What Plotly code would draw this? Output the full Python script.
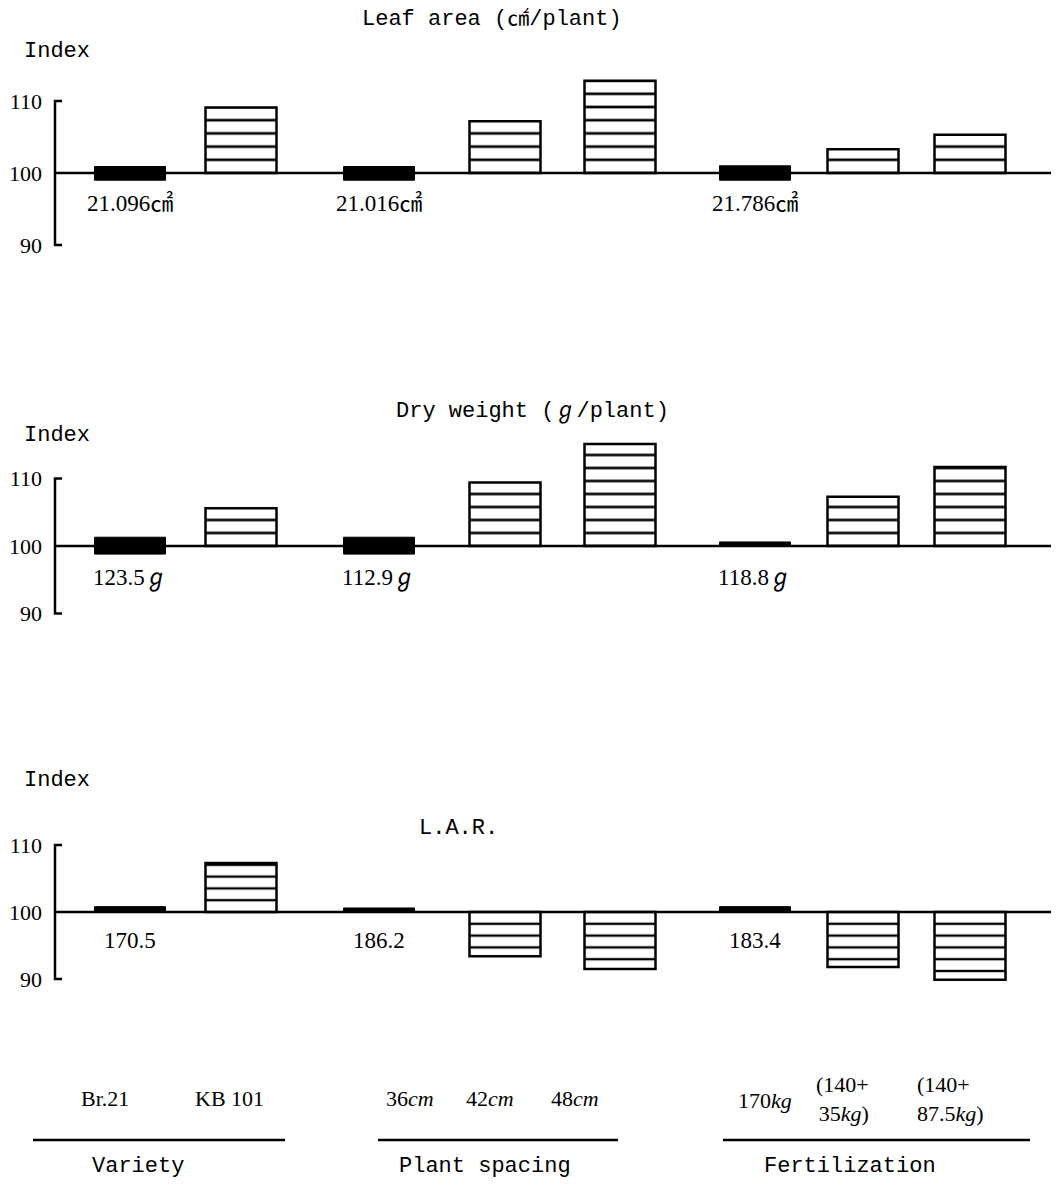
import plotly.graph_objects as go

# ---------------- data ----------------
panel_titles = ["Leaf area (㎠/plant)", "Dry weight (ℊ/plant)", "L.A.R."]
control_names = ["Br.21", "36cm", "170kg"]
treatment_names = ["KB 101", "42cm", "48cm", "(140+35kg)", "(140+87.5kg)"]

# control bars (index 100, drawn as thick black bars) : lower / upper edge
ctrl_low = [[99.0, 99.0, 99.0], [98.8, 98.8, 100.0], [100.0, 100.0, 100.0]]
ctrl_high = [[100.9, 100.9, 101.0], [101.3, 101.3, 100.6], [100.8, 100.6, 100.8]]
ctrl_labels = [["21.096㎠", "21.016㎠", "21.786㎠"],
               ["123.5ℊ", "112.9ℊ", "118.8ℊ"],
               ["170.5", "186.2", "183.4"]]

# treatment index values
leaf_area = [109.1, 107.2, 112.8, 103.3, 105.3]
dry_weight = [105.6, 109.4, 115.1, 107.3, 111.7]
lar = [107.3, 93.4, 91.5, 91.8, 89.9]
treat_values = [leaf_area, dry_weight, lar]

tick_vals = [90, 100, 110]
tick_text = ["90", "100", "110"]

bottom_labels = ["Br.21", "KB 101", "36<i>cm</i>", "42<i>cm</i>", "48<i>cm</i>",
                 "170<i>kg</i>", "(140+<br>35<i>kg</i>)", "(140+<br>87.5<i>kg</i>)"]
group_names = ["Variety", "Plant spacing", "Fertilization"]

# ---------------- layout helpers (page-pixel geometry) ----------------
PAGE_W, PAGE_H = 1059, 1186
OFF = 8                        # page margin around the figure
W, H = PAGE_W - 2 * OFF, PAGE_H - 2 * OFF
ctrl_x = [130, 379, 755]
treat_x = [241, 505, 620, 863, 970]
bar_w = 71
axis_x = 55
base_end = 1052
# per panel: page-pixel y of index 100, px per unit, hatch spacing, hatch rows above baseline
panels = [dict(py100=173, s=7.2, lo=86, hatch=13.2, rows=8.5, title_y=19, index_y=52, title_x=492, lab_shift=-30),
          dict(py100=546, s=6.75, lo=86, hatch=13.0, rows=8.5, title_y=411, index_y=435, title_x=532, lab_shift=-32),
          dict(py100=912, s=6.7, lo=86, hatch=11.8, rows=6.5, title_y=829, index_y=780, title_x=458, lab_shift=-28)]

def paper(py):
    return 1 - (py - OFF) / H

serif = "Liberation Serif, Noto Sans CJK JP, DejaVu Serif"
mono = "Liberation Mono, Noto Sans CJK JP, DejaVu Sans Mono"

fig = go.Figure()
layout = dict(width=W, height=H, margin=dict(l=0, r=0, t=0, b=0, autoexpand=False),
              paper_bgcolor="white", plot_bgcolor="rgba(0,0,0,0)", showlegend=False,
              xaxis=dict(range=[OFF, OFF + W], domain=[0, 1], visible=False, fixedrange=True,
                         automargin=False))
shapes, annotations = [], []

def ann(**kw):
    kw.setdefault("showarrow", False)
    kw.setdefault("xanchor", "center")
    kw.setdefault("yanchor", "middle")
    annotations.append(kw)

for i, p in enumerate(panels):
    yname = "y" if i == 0 else f"y{i+1}"
    ykey = "yaxis" if i == 0 else f"yaxis{i+1}"
    # top of range chosen so the hatch lines are in phase with the baseline
    hi = 100 + p["hatch"] * p["rows"] / p["s"]
    d0 = paper(p["py100"] + (100 - p["lo"]) * p["s"])
    d1 = paper(p["py100"] - (hi - 100) * p["s"])
    layout[ykey] = dict(domain=[d0, d1], range=[p["lo"], hi], anchor="free", automargin=False,
                        position=(axis_x - OFF) / W, showgrid=False, zeroline=False, showline=False,
                        tickvals=tick_vals, ticktext=tick_text, ticks="", ticklabelstandoff=13,
                        tickfont=dict(family=serif, size=22, color="black"), fixedrange=True)
    # black control bars
    fig.add_trace(go.Bar(x=ctrl_x, base=ctrl_low[i],
                         y=[h - l for h, l in zip(ctrl_high[i], ctrl_low[i])],
                         width=bar_w, marker=dict(color="black", line=dict(color="black", width=1)),
                         xaxis="x", yaxis=yname, hoverinfo="skip"))
    # hatched treatment bars
    fig.add_trace(go.Bar(x=treat_x, base=100, y=[v - 100 for v in treat_values[i]],
                         width=bar_w,
                         marker=dict(color="white", line=dict(color="black", width=2.5),
                                     pattern=dict(shape="-", size=p["hatch"], solidity=0.2,
                                                  fgcolor="black", bgcolor="white",
                                                  fillmode="overlay", fgopacity=1)),
                         xaxis="x", yaxis=yname, hoverinfo="skip"))
    # baseline and bracket axis
    shapes.append(dict(type="line", xref="x", yref=yname, x0=axis_x, x1=base_end, y0=100, y1=100,
                       line=dict(color="black", width=2.5), layer="below"))
    shapes.append(dict(type="path", xref="x", yref=yname,
                       path=f"M {axis_x+7},110 L {axis_x},110 L {axis_x},90 L {axis_x+7},90",
                       line=dict(color="black", width=2.5)))
    # control value labels
    for cx, lab in zip(ctrl_x, ctrl_labels[i]):
        ann(x=cx, y=100, xref="x", yref=yname, text=lab, yshift=p["lab_shift"],
            font=dict(family=serif, size=23, color="black"))
    # titles
    ann(x=p["title_x"], y=paper(p["title_y"]), xref="x", yref="paper", text=panel_titles[i],
        font=dict(family=mono, size=22, color="black"))
    ann(x=57, y=paper(p["index_y"]), xref="x", yref="paper", text="Index",
        font=dict(family=mono, size=22, color="black"))

# bottom category labels
bottom_x = [105, 229, 410, 490, 575, 765, 842, 950]
bottom_y = [1098, 1098, 1098, 1098, 1098, 1100, 1099, 1099]
bottom_align = ["center"] * 6 + ["right", "left"]
for bx, by, al, lab in zip(bottom_x, bottom_y, bottom_align, bottom_labels):
    ann(x=bx, y=paper(by), xref="x", yref="paper", text=lab, align=al,
        font=dict(family=serif, size=22, color="black"))
group_lines = [(33, 285), (378, 618), (723, 1030)]
group_x = [138, 485, 850]
for (x0, x1), gx, name in zip(group_lines, group_x, group_names):
    shapes.append(dict(type="line", xref="x", yref="paper", x0=x0, x1=x1,
                       y0=paper(1140), y1=paper(1140), line=dict(color="black", width=2.5)))
    ann(x=gx, y=paper(1166), xref="x", yref="paper", text=name,
        font=dict(family=mono, size=22, color="black"))

layout["shapes"] = shapes
layout["annotations"] = annotations
layout["barmode"] = "overlay"
fig.update_layout(**layout)
fig.write_html("out.html")
